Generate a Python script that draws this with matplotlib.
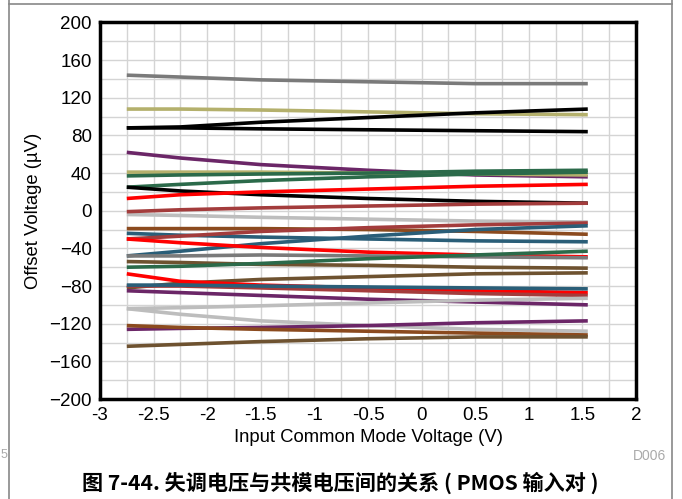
import matplotlib.pyplot as plt
import numpy as np

# input common mode voltage sample points (V)
vcm = [-2.75, -2.25, -1.5, -0.5, 0.5, 1.55]

# offset voltage of each unit (uV)
gray1 = [144, 142, 139, 137, 135, 135]
khaki1 = [108, 108, 107, 105, 103, 102]
black1 = [88, 89, 94, 99, 104, 108]
black2 = [88, 88, 87, 86, 85, 84]
purple1 = [62, 56, 49, 43, 38, 36]
khaki2 = [41, 41, 41, 40, 39, 38]
green1 = [37, 38, 39, 40, 42, 43]
green2 = [25, 28, 32, 36, 39, 41]
black3 = [25, 21, 17, 13, 10, 8]
red1 = [13, 17, 20, 23, 26, 28]
brownred1 = [-1, 1, 3, 5, 7, 8]
lgray1 = [-4, -5, -7, -9, -11, -12]
brownred2 = [-30, -27, -22, -18, -15, -13]
brown1 = [-19, -19, -19, -20, -22, -25]
teal1 = [-24, -26, -28, -30, -32, -33]
teal2 = [-48, -43, -35, -27, -20, -16]
red2 = [-30, -34, -39, -44, -47, -49]
gray2 = [-48, -48, -47, -48, -49, -50]
green3 = [-60, -59, -56, -51, -47, -43]
olive1 = [-54, -55, -57, -58, -60, -61]
olive2 = [-82, -77, -73, -70, -67, -66]
red3 = [-67, -75, -79, -82, -85, -87]
teal3 = [-79, -79, -80, -81, -82, -83]
brownred3 = [-80, -80, -82, -85, -88, -90]
purple2 = [-85, -87, -90, -94, -97, -100]
lgray2 = [-104, -110, -117, -122, -126, -128]
lgray3 = [-104, -103, -101, -98, -95, -93]
purple3 = [-126, -125, -124, -122, -119, -117]
brown2 = [-122, -124, -126, -128, -130, -132]
olive3 = [-144, -142, -139, -136, -134, -134]

GRAY = "#7a7a7a"
KHAKI = "#b4b06c"
BLACK = "#000000"
PURPLE = "#6b2667"
GREEN = "#2b6a4a"
RED = "#ff0000"
BROWNRED = "#a33c3c"
LGRAY = "#bdbdbd"
BROWN = "#8b4a1e"
TEAL = "#2a5e78"
OLIVE = "#6e5230"

series = [
    (gray1, GRAY), (khaki1, KHAKI), (black1, BLACK), (black2, BLACK),
    (purple1, PURPLE), (khaki2, KHAKI), (green2, GREEN), (green1, GREEN),
    (black3, BLACK), (red1, RED), (lgray1, LGRAY), (brownred1, BROWNRED),
    (brown1, BROWN), (teal1, TEAL), (brownred2, BROWNRED), (teal2, TEAL),
    (red2, RED), (gray2, GRAY), (olive1, OLIVE), (green3, GREEN),
    (olive2, OLIVE), (red3, RED), (brownred3, BROWNRED), (teal3, TEAL),
    (purple2, PURPLE), (lgray3, LGRAY), (lgray2, LGRAY), (purple3, PURPLE),
    (brown2, BROWN), (olive3, OLIVE),
]

plt.rcParams['font.family'] = ['Liberation Sans', 'DejaVu Sans']

fig = plt.figure(figsize=(6.82, 4.99), dpi=100)
ax = fig.add_axes([0.1466, 0.2004, 0.786, 0.7546])

for vals, col in series:
    ax.plot(vcm, vals, color=col, lw=2.6, solid_capstyle='butt')

ax.set_xlim(-3, 2)
ax.set_ylim(-200, 200)
ax.set_xticks(np.arange(-3, 2.01, 0.5))
ax.set_xticklabels(["-3", "-2.5", "-2", "-1.5", "-1", "-0.5", "0", "0.5", "1", "1.5", "2"])
ax.set_yticks(np.arange(-200, 201, 40))
ax.set_xticks(np.arange(-3, 2.01, 0.25), minor=True)
ax.set_yticks(np.arange(-200, 201, 20), minor=True)
ax.grid(which='both', color='#d4d4d4', lw=1.0)
ax.set_axisbelow(True)
ax.tick_params(which='both', length=0, labelsize=13.5, pad=6)
for s in ax.spines.values():
    s.set_linewidth(2.5)

ax.set_xlabel("Input Common Mode Voltage (V)", fontsize=13.3, labelpad=3)
ax.set_ylabel("Offset Voltage (µV)", fontsize=13.3, labelpad=5)

# page furniture around the figure
fig.add_artist(plt.Line2D([9 / 682, 9 / 682], [0, 1], color='#888888', lw=1.2))
fig.add_artist(plt.Line2D([672 / 682, 672 / 682], [0, 1], color='#888888', lw=1.2))
fig.add_artist(plt.Line2D([9 / 682, 672 / 682], [1 - 4 / 499, 1 - 4 / 499], color='#888888', lw=1.2))
fig.text(650 / 682, 1 - 456 / 499, "D006", color='#aaaaaa', fontsize=10, ha='center', va='center')
fig.text(1 / 682, 1 - 455 / 499, "5", color='#aaaaaa', fontsize=9, ha='left', va='center')
fig.text(340 / 682, 1 - 483 / 499, "图 7-44. 失调电压与共模电压间的关系 ( PMOS 输入对 )",
         family=['Noto Sans CJK SC', 'DejaVu Sans'], fontweight='bold', fontsize=15.2,
         ha='center', va='center')

fig.savefig("out.png", dpi=100)
